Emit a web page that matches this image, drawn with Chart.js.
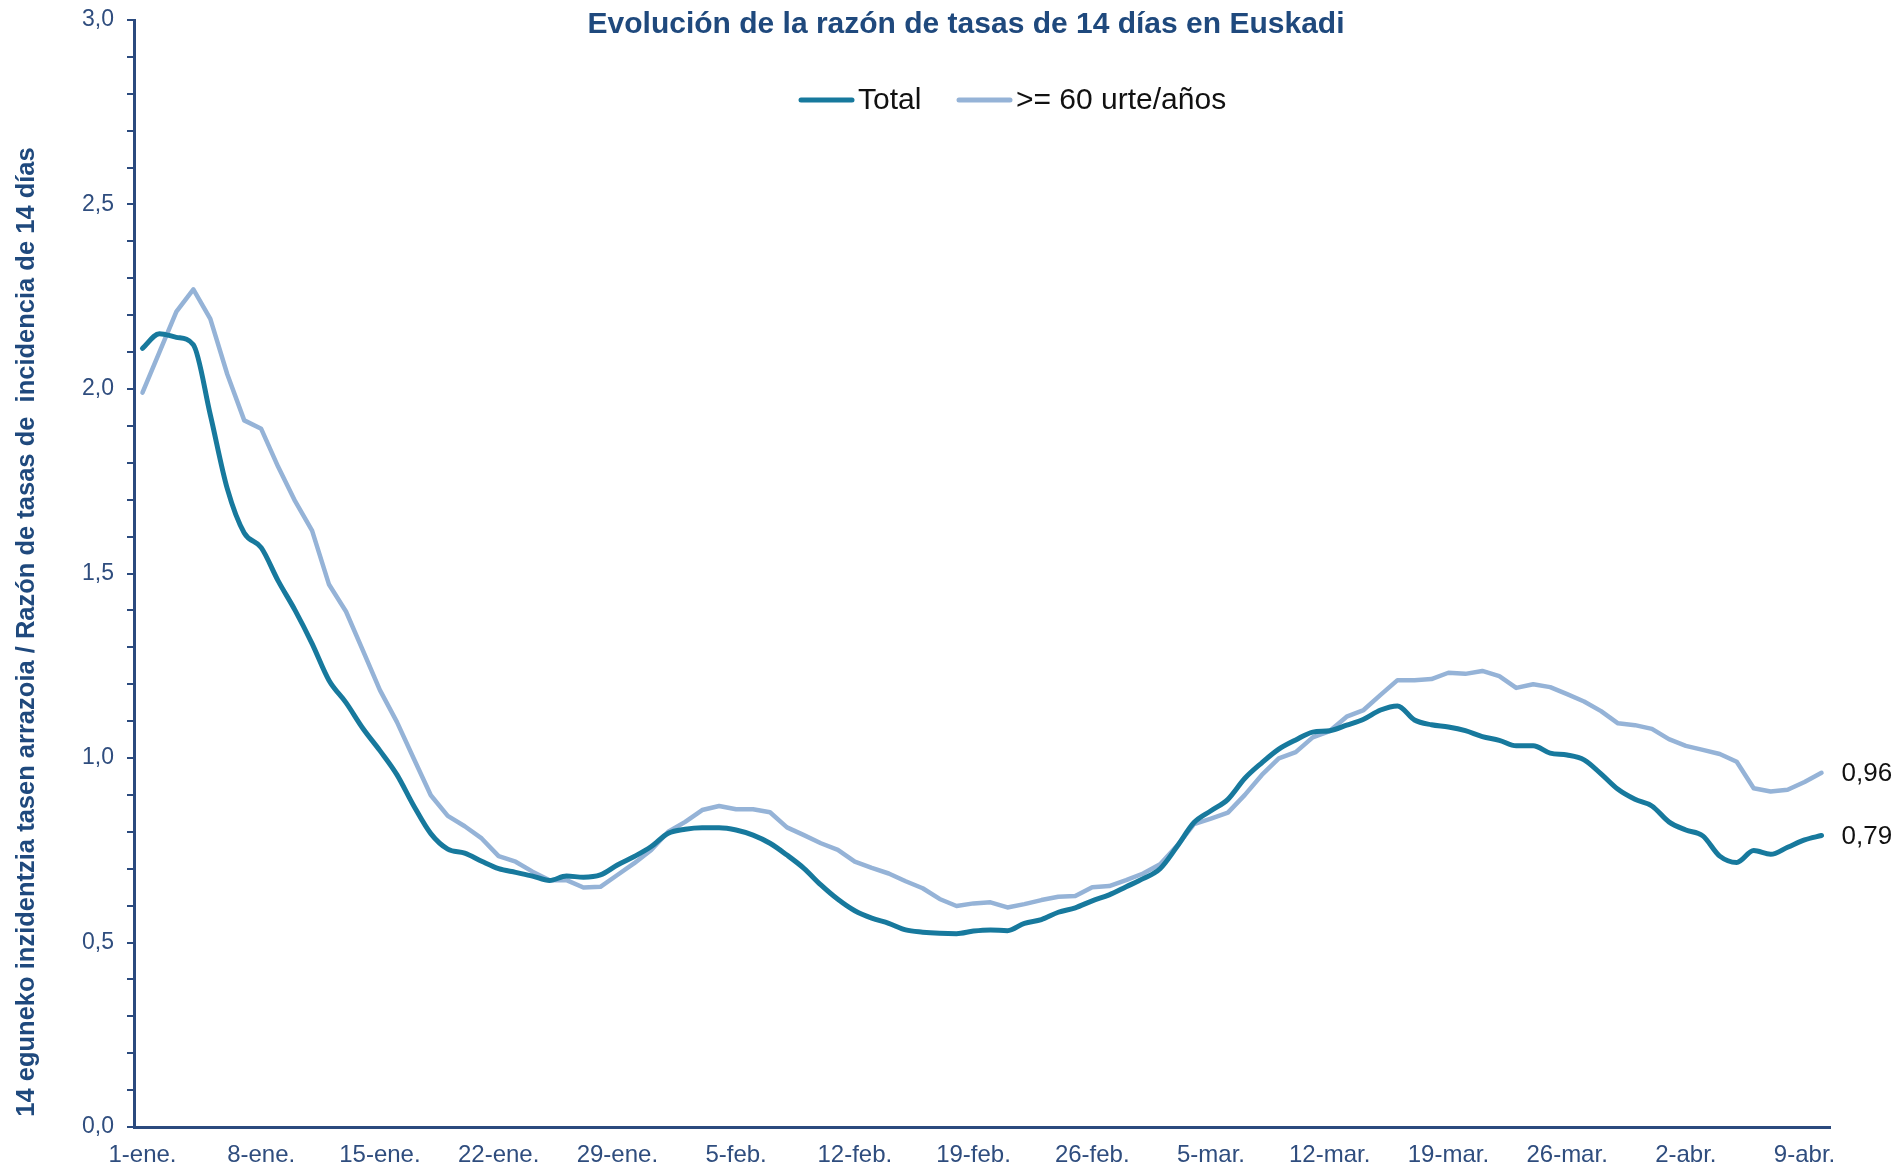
<!DOCTYPE html>
<html><head><meta charset="utf-8">
<script src="https://cdn.jsdelivr.net/npm/chart.js@4.4.1/dist/chart.umd.min.js"></script>
<style>html,body{margin:0;padding:0;background:#fff;overflow:hidden}#wrap{width:1897px;height:1174px;position:relative}</style>
</head><body><div id="wrap"><canvas id="c" width="1897" height="1174"></canvas></div>
<script>
const chartTitle = 'Evolución de la razón de tasas de 14 días en Euskadi';
const yAxisTitle = '14 eguneko inzidentzia tasen arrazoia / Razón de tasas de  incidencia de 14 días';
const seriesNames = ['Total', '>= 60 urte/años'];
const monthNames = ['ene', 'feb', 'mar', 'abr'];
const monthDays = [31, 28, 31, 10];
const tickLabels = ['1-ene.', '8-ene.', '15-ene.', '22-ene.', '29-ene.', '5-feb.', '12-feb.', '19-feb.', '26-feb.', '5-mar.', '12-mar.', '19-mar.', '26-mar.', '2-abr.', '9-abr.'];
const yTickLabels = ['0,0', '0,5', '1,0', '1,5', '2,0', '2,5', '3,0'];
const endLabels = ['0,79', '0,96'];

const totalValues = [
  2.11, 2.15, 2.14, 2.12, 1.93, 1.73, 1.61, 1.57, 1.48, 1.40,
  1.31, 1.21, 1.15, 1.08, 1.02, 0.955, 0.87, 0.795, 0.753, 0.742,
  0.72, 0.70, 0.69, 0.68, 0.668, 0.68, 0.677, 0.683, 0.71, 0.733,
  0.76, 0.796, 0.807, 0.811, 0.811, 0.805, 0.791, 0.769, 0.737, 0.701,
  0.656, 0.617, 0.586, 0.566, 0.552, 0.534, 0.528, 0.525, 0.524, 0.531,
  0.534, 0.532, 0.552, 0.562, 0.582, 0.594, 0.613, 0.629, 0.651, 0.673,
  0.70, 0.76, 0.825, 0.857, 0.888, 0.945, 0.987, 1.024, 1.049, 1.07,
  1.074, 1.089, 1.105, 1.13, 1.141, 1.103, 1.09, 1.084, 1.074, 1.058,
  1.048, 1.033, 1.033, 1.013, 1.008, 0.995, 0.957, 0.915, 0.888, 0.87,
  0.827, 0.805, 0.789, 0.734, 0.717, 0.749, 0.739, 0.758, 0.778, 0.79
];
const over60Values = [
  1.99, 2.10, 2.21, 2.27, 2.19, 2.04, 1.915, 1.892, 1.789, 1.696,
  1.616, 1.47, 1.397, 1.291, 1.184, 1.098, 0.998, 0.899, 0.843, 0.815,
  0.782, 0.734, 0.719, 0.692, 0.669, 0.669, 0.649, 0.651, 0.683, 0.715,
  0.751, 0.80, 0.827, 0.859, 0.87, 0.861, 0.861, 0.853, 0.812, 0.791,
  0.769, 0.751, 0.719, 0.702, 0.687, 0.666, 0.647, 0.618, 0.599, 0.606,
  0.609, 0.595, 0.604, 0.615, 0.624, 0.626, 0.65, 0.653, 0.669, 0.687,
  0.712, 0.762, 0.821, 0.836, 0.852, 0.90, 0.954, 0.999, 1.016, 1.056,
  1.073, 1.112, 1.13, 1.171, 1.211, 1.211, 1.214, 1.231, 1.228, 1.236,
  1.222, 1.19, 1.20, 1.192, 1.173, 1.153, 1.127, 1.094, 1.089, 1.079,
  1.051, 1.033, 1.022, 1.011, 0.99, 0.918, 0.909, 0.914, 0.935, 0.96
];

const categories = [];
monthNames.forEach((m, i) => { for (let d = 1; d <= monthDays[i]; d++) categories.push(d + '-' + m + '.'); });

const FONT = "'Liberation Sans Narrow', 'Liberation Sans', Arial, sans-serif";
const AXIS_COLOR = '#2B4A7E';
const TEXT_BLUE = '#2F4D7E';
const TITLE_BLUE = '#1F497D';
const TOTAL_COLOR = '#17799D';
const OVER60_COLOR = '#95B3D7';

const annotPlugin = {
  id: 'annot',
  afterDraw(chart) {
    const ctx = chart.ctx;
    ctx.save();
    ctx.fillStyle = TITLE_BLUE;
    ctx.font = 'bold 30px ' + FONT;
    ctx.textAlign = 'center';
    ctx.textBaseline = 'middle';
    ctx.fillText(chartTitle, 966, 25);
    const colors = [TOTAL_COLOR, OVER60_COLOR];
    const starts = [799, 957];
    ctx.font = '30px ' + FONT;
    ctx.textAlign = 'left';
    seriesNames.forEach((n, i) => {
      ctx.strokeStyle = colors[i];
      ctx.lineWidth = 5;
      ctx.lineCap = 'round';
      ctx.beginPath();
      ctx.moveTo(starts[i] + 2, 100);
      ctx.lineTo(starts[i] + 53, 100);
      ctx.stroke();
      ctx.fillStyle = '#111';
      ctx.fillText(n, starts[i] + 59, 101);
    });
    ctx.save();
    ctx.translate(27, 632);
    ctx.rotate(-Math.PI / 2);
    ctx.fillStyle = TITLE_BLUE;
    ctx.font = 'bold 25.5px ' + FONT;
    ctx.textAlign = 'center';
    ctx.textBaseline = 'middle';
    ctx.fillText(yAxisTitle, 0, 0);
    ctx.restore();
    ctx.fillStyle = '#111';
    ctx.font = '26px ' + FONT;
    ctx.textAlign = 'left';
    ctx.textBaseline = 'middle';
    chart.data.datasets.forEach((ds, i) => {
      const meta = chart.getDatasetMeta(i);
      const pt = meta.data[meta.data.length - 1];
      ctx.fillText(endLabels[i], pt.x + 20, pt.y + 1);
    });
    ctx.restore();
  }
};

new Chart(document.getElementById('c'), {
  type: 'line',
  data: {
    labels: categories,
    datasets: [
      { label: seriesNames[0], data: totalValues, borderColor: TOTAL_COLOR, backgroundColor: TOTAL_COLOR,
        borderWidth: 5, pointRadius: 0, tension: 0.4, cubicInterpolationMode: 'monotone', borderCapStyle: 'round', borderJoinStyle: 'round' },
      { label: seriesNames[1], data: over60Values, borderColor: OVER60_COLOR, backgroundColor: OVER60_COLOR,
        borderWidth: 4.5, pointRadius: 0, tension: 0, borderCapStyle: 'round', borderJoinStyle: 'round' }
    ]
  },
  options: {
    responsive: false,
    animation: false,
    devicePixelRatio: 1,
    events: [],
    layout: { padding: { left: 0, right: 67, top: 20, bottom: 0 } },
    plugins: { legend: { display: false }, title: { display: false }, tooltip: { enabled: false } },
    scales: {
      x: {
        type: 'category',
        offset: true,
        grid: { display: false, drawTicks: false },
        border: { display: true, color: AXIS_COLOR, width: 3 },
        ticks: {
          autoSkip: false, maxRotation: 0, minRotation: 0, padding: 14,
          color: TEXT_BLUE, font: { family: FONT, size: 24 },
          callback: function (v, i) { const c = categories[i]; return tickLabels.includes(c) ? c : ''; }
        },
        afterFit: function (s) { s.height = 47; s.paddingLeft = 0; s.paddingRight = 0; }
      },
      y: {
        min: 0, max: 3,
        grid: { display: true, drawOnChartArea: false, drawTicks: true, tickLength: 7, color: AXIS_COLOR, lineWidth: 2 },
        border: { display: true, color: AXIS_COLOR, width: 3 },
        ticks: {
          stepSize: 0.1, padding: 13, color: TEXT_BLUE, font: { family: FONT, size: 23 },
          callback: function (v) { const k = Math.round(v * 10); return k % 5 === 0 ? yTickLabels[k / 5] : ''; }
        },
        afterFit: function (s) { s.width = 134; s.paddingTop = 0; s.paddingBottom = 0; }
      }
    }
  },
  plugins: [annotPlugin]
});
</script></body></html>
